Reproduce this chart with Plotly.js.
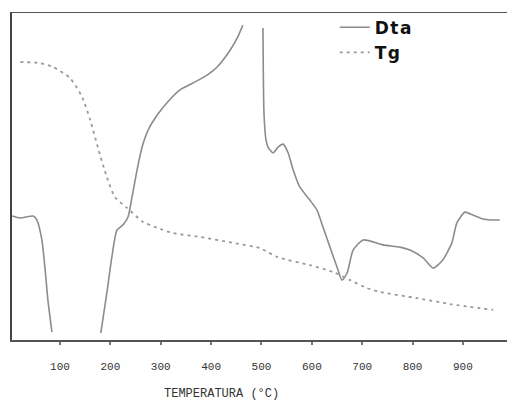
<!DOCTYPE html>
<html>
<head>
<meta charset="utf-8">
<script src="https://cdn.plot.ly/plotly-3.0.1.min.js"></script>
<style>
html,body{margin:0;padding:0;background:#fff;}
#chart{width:507px;height:401px;}
#chart .legendtext{letter-spacing:1.5px;}
</style>
</head>
<body>
<div id="chart"></div>
<script>
// DTA curve (temperature °C, arbitrary signal units); null = curve leaves the frame
const dtaT = [5, 21, 47, 54, 64, 70, 76, 84, null,
  181, 193, 203, 213, 225, 235, 243, 253, 263, 275, 293, 312, 338, 364, 392, 412, 438, 453, 463, null,
  503, 505, 509, 513, 523, 533, 543, 553, 563, 576, 596, 610, 622, 636, 650, 660, 670, 682, 702, 741, 775, 795, 821, 841, 860, 878, 888, 904, 920, 940, 954, 973];
const dtaY = [37.9, 37.3, 37.9, 36.7, 30.6, 22.3, 12.2, 2.4, null,
  2.1, 14.4, 25.4, 33.6, 35.2, 37.6, 43.7, 52.0, 59.0, 64.2, 68.8, 72.5, 76.5, 78.6, 81.0, 83.5, 88.7, 92.7, 96.3, null,
  95.4, 69.4, 61.2, 59.0, 57.2, 59.0, 59.9, 57.2, 52.0, 46.8, 42.8, 39.8, 34.6, 28.4, 22.3, 18.3, 20.5, 27.5, 30.6, 29.1, 28.4, 27.5, 25.1, 22.0, 24.5, 29.7, 35.8, 39.1, 38.2, 37.0, 36.7, 36.7];

// TG curve (temperature °C, arbitrary mass units)
const tgT = [21, 60, 86, 120, 144, 160, 175, 193, 209, 233, 265, 293, 324, 378, 443, 497, 531, 596, 642, 676, 709, 735, 809, 874, 960];
const tgY = [85.0, 84.7, 83.5, 80.1, 74.3, 67.3, 59.0, 49.8, 43.7, 40.4, 36.1, 34.3, 32.7, 31.5, 29.7, 28.1, 25.4, 22.9, 20.8, 18.3, 15.9, 14.7, 12.8, 11.0, 9.2];

const xTicks = [100, 200, 300, 400, 500, 600, 700, 800, 900];
const xTickText = ['100', '200', '300', '400', '500', '600', '700', '800', '900'];
const seriesNames = ['Dta', 'Tg'];
const xTitle = 'TEMPERATURA (°C)';

const traces = [
  {x: dtaT, y: dtaY, name: seriesNames[0], mode: 'lines', connectgaps: false,
   line: {color: '#8c8c8c', width: 1.6, shape: 'spline', smoothing: 0.6}},
  {x: tgT, y: tgY, name: seriesNames[1], mode: 'lines',
   line: {color: '#9a9a9a', width: 1.8, dash: '3px,4px', shape: 'spline', smoothing: 0.6}}
];

const layout = {
  width: 507, height: 401,
  margin: {l: 12, r: 0, t: 13, b: 61, pad: 0},
  paper_bgcolor: '#ffffff', plot_bgcolor: '#ffffff',
  showlegend: true,
  legend: {x: 0.652, y: 1.01, xanchor: 'left', yanchor: 'top', bgcolor: 'rgba(0,0,0,0)',
           itemwidth: 30, tracegroupgap: 0,
           font: {family: 'DejaVu Sans', size: 17, color: '#111', weight: 'bold'}},
  xaxis: {range: [4.7, 987.5], tickvals: xTicks, ticktext: xTickText,
          showgrid: false, zeroline: false, showline: true, mirror: true,
          linecolor: '#555', linewidth: 1.5,
          ticks: 'outside', ticklen: 3, tickwidth: 2, tickcolor: '#777',
          ticklabelstandoff: 12,
          tickfont: {family: 'Liberation Mono', size: 11, color: '#333'}},
  yaxis: {range: [0, 100], showgrid: false, zeroline: false, showticklabels: false,
          showline: true, linecolor: '#444', linewidth: 1.8, ticks: ''},
  annotations: [{text: xTitle, xref: 'paper', yref: 'paper', x: 0.424, y: -0.166,
                 xanchor: 'center', yanchor: 'middle', showarrow: false,
                 font: {family: 'Liberation Mono', size: 12, color: '#333'}}]
};

Plotly.newPlot('chart', traces, layout, {displayModeBar: false, staticPlot: true});
</script>
</body>
</html>
